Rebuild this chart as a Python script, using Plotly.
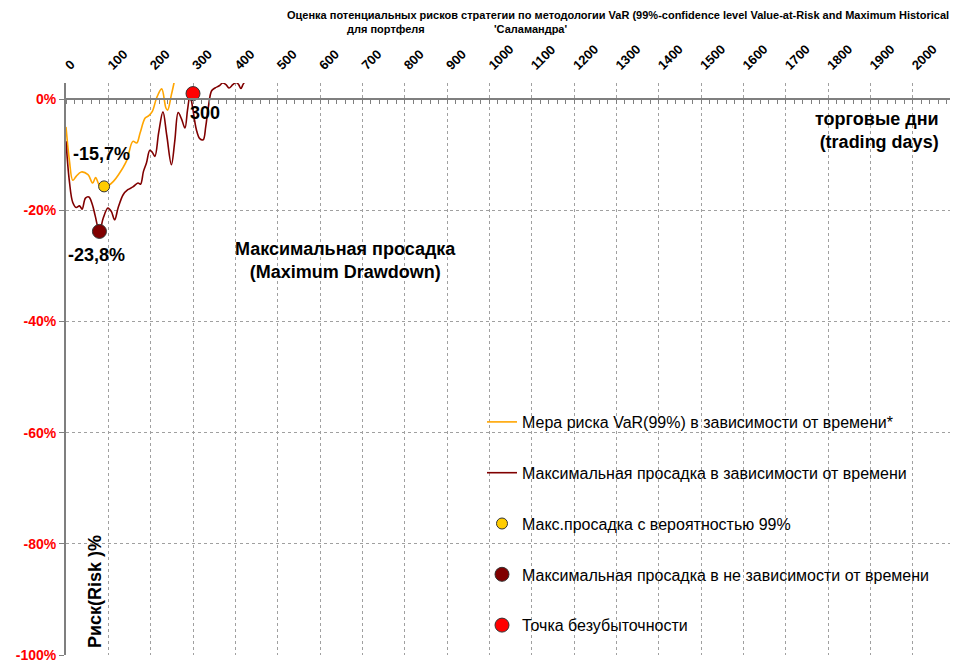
import plotly.graph_objects as go

# ---------------- data ----------------
var_days = [0, 8, 16, 24, 36, 52, 63, 70, 79, 90, 101, 112, 124, 143, 158, 167, 175,
            187, 195, 204, 214, 226, 236, 240, 249, 256, 264]
var_vals = [-5.0, -11.0, -14.6, -13.9, -13.1, -13.6, -15.1, -14.1, -15.5, -15.7, -15.5,
            -14.8, -13.6, -11.1, -7.6, -7.9, -6.1, -3.4, -3.0, -2.2, 0.2, 1.85, -1.6,
            -2.0, 0.8, 3.2, 6.0]

dd_days = [0, 8, 16, 24, 32, 38, 46, 54, 62, 69, 79, 88, 99, 107, 115, 123, 135, 146,
           158, 170, 176, 183, 190, 198, 204, 210, 219, 229, 238, 249, 257, 265, 273,
           281, 287, 293, 299, 308, 316, 324, 330, 336, 344, 352, 362, 370, 378, 385,
           394, 402, 408, 413, 418, 424, 432]
dd_vals = [-7.6, -14.8, -18.6, -19.5, -19.2, -19.8, -17.8, -17.6, -18.9, -21.0, -23.8,
           -21.4, -19.6, -20.2, -21.7, -19.6, -17.2, -16.3, -15.8, -15.1, -15.3, -13.0,
           -11.5, -9.2, -9.6, -10.3, -6.0, -2.3, -6.5, -11.8, -7.5, -2.4, -3.6, -5.2,
           -2.0, 0.7, -1.5, -5.5, -7.1, -7.3, -5.0, -1.6, 1.5, 2.0, 2.4, 2.9, 2.6, 2.0,
           2.6, 3.0, 2.6, 1.9, 2.6, 3.4, 5.0]

var_point_day, var_point_val = [90], [-15.7]
dd_point_day, dd_point_val = [79], [-23.8]
be_point_day, be_point_val = [300], [1.0]

y_ticks = [0, -20, -40, -60, -80, -100]
y_labels = ["0%", "-20%", "-40%", "-60%", "-80%", "-100%"]
x_ticks = list(range(0, 2101, 100))
x_labels = [str(v) for v in x_ticks]

names = ["Мера риска VaR(99%) в зависимости от времени*",
         "Максимальная просадка в зависимости от времени",
         "Макс.просадка с вероятностью 99%",
         "Максимальная просадка в не зависимости от времени",
         "Точка безубыточности"]

# ---------------- layout geometry ----------------
# the page body has an 8px margin, so the figure starts at (8, 8) of the window
OFF = 8
W_FIG, H_FIG = 950, 655
L, T = 66 - OFF, 83 - OFF
R = W_FIG - (955 - OFF)
B = H_FIG - (655 - OFF)
PW, PH = W_FIG - L - R, H_FIG - T - B


def px(x):  # window pixel -> paper fraction
    return (x - OFF - L) / PW


def py(y):
    return (H_FIG - B - (y - OFF)) / PH


FONT = "Liberation Sans, Arial, sans-serif"
ORANGE = "#FFA500"
DARKRED = "#800000"

fig = go.Figure()
fig.add_trace(go.Scatter(x=var_days, y=var_vals, mode="lines", name=names[0],
                         line=dict(color=ORANGE, width=1.6, shape="spline", smoothing=1.0),
                         legendgroup="a"))
fig.add_trace(go.Scatter(x=dd_days, y=dd_vals, mode="lines", name=names[1],
                         line=dict(color=DARKRED, width=1.6, shape="spline", smoothing=1.0),
                         legendgroup="b"))
fig.add_trace(go.Scatter(x=var_point_day, y=var_point_val, mode="markers", name=names[2],
                         marker=dict(color="#FFCC00", size=11, line=dict(color="#333333", width=1)),
                         legendgroup="c"))
fig.add_trace(go.Scatter(x=dd_point_day, y=dd_point_val, mode="markers", name=names[3],
                         marker=dict(color=DARKRED, size=14, line=dict(color="#333333", width=1)),
                         legendgroup="d"))
# breakeven point drawn through the overlay axis (same range) so that axis is rendered
fig.add_trace(go.Scatter(x=be_point_day, y=be_point_val, mode="markers", name=names[4],
                         xaxis="x2", yaxis="y",
                         marker=dict(color="#FF0000", size=14, line=dict(color="#333333", width=1)),
                         legendgroup="e", cliponaxis=False))

y_min, y_max = -100, 2.9
zero_pos = (0 - y_min) / (y_max - y_min)

fig.update_layout(
    width=W_FIG, height=H_FIG,
    margin=dict(l=L, r=R, t=T, b=B, pad=0, autoexpand=False),
    paper_bgcolor="white", plot_bgcolor="white",
    font=dict(family=FONT, color="#000000"),
    showlegend=True,
    legend=dict(x=px(482), y=py(405), xanchor="left", yanchor="top",
                font=dict(size=16, family=FONT, color="#000000"),
                bgcolor="rgba(0,0,0,0)", tracegroupgap=27, itemwidth=30,
                traceorder="grouped"),
    xaxis=dict(range=[0, 2100], side="top", anchor="free", position=1,
               tickvals=x_ticks, ticktext=x_labels, tickangle=-45, automargin=False,
               tickfont=dict(size=13, family=FONT, color="#000000", weight=700),
               ticklabelstandoff=8,
               showline=False, ticks="", zeroline=False,
               showgrid=True, gridcolor="#A0A0A0", griddash="dot", gridwidth=1),
    xaxis2=dict(range=[0, 2100], overlaying="x", anchor="free", position=zero_pos,
                side="bottom", showline=True, linecolor="#7F7F7F", linewidth=2,
                ticks="outside", ticklen=4, tickcolor="#7F7F7F", tickwidth=1,
                tick0=0, dtick=20, showticklabels=False, showgrid=False, zeroline=False,
                automargin=False),
    yaxis=dict(range=[y_min, y_max], tickvals=y_ticks, ticktext=y_labels,
               tickfont=dict(size=14, family=FONT, color="#FF0000", weight=700),
               showline=True, linecolor="#7F7F7F", linewidth=2, automargin=False,
               ticks="outside", ticklen=5, tickcolor="#7F7F7F",
               zeroline=False, showgrid=True, gridcolor="#A0A0A0", griddash="dot",
               gridwidth=1),
)

ann = []
bold = dict(family=FONT, size=18, color="#000000", weight=700)
ann.append(dict(x=px(101), y=py(154), text="-15,7%", font=bold))
ann.append(dict(x=px(96), y=py(255), text="-23,8%", font=bold))
ann.append(dict(x=px(205), y=py(113), text="300", font=bold))
ann.append(dict(x=px(345), y=py(260), text="Максимальная просадка<br>(Maximum Drawdown)",
                font=bold, align="center"))
ann.append(dict(x=px(941), y=py(130), text="торговые дни<br>(trading days)", font=bold,
                align="right", xanchor="right"))
ann.append(dict(x=px(95), y=py(592), text="Риск(Risk )%", font=bold, textangle=-90))
tfont = dict(family="Liberation Sans Narrow, Liberation Sans, Arial", size=11,
             color="#000000", weight=700)
ann.append(dict(x=px(285), y=py(15),
                text="Оценка потенциальных рисков стратегии по методологии VaR "
                     "(99%-confidence level Value-at-Risk and Maximum Historical Drawdown)",
                font=tfont, xanchor="left"))
ann.append(dict(x=px(345), y=py(29), text="для портфеля", font=tfont, xanchor="left"))
ann.append(dict(x=px(492), y=py(29), text="'Саламандра'", font=tfont, xanchor="left"))

for a in ann:
    a.setdefault("xanchor", "center")
    a.update(xref="paper", yref="paper", yanchor="middle", showarrow=False)
fig.update_layout(annotations=ann)

fig.write_html("out.html")
